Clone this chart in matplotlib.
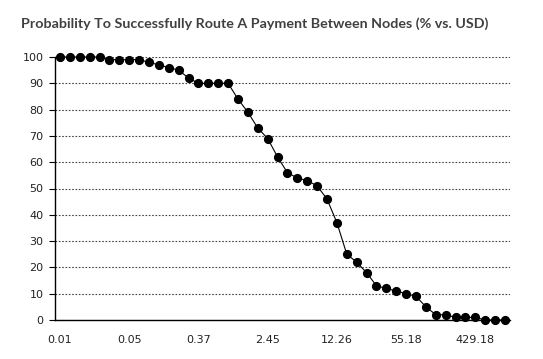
import matplotlib
matplotlib.use("Agg")
import matplotlib.pyplot as plt

# probability (%) per payment-size bucket
success_pct = [100, 100, 100, 100, 100, 99, 99, 99, 99, 98,
               97, 96, 95, 92, 90, 90, 90, 90, 84, 79,
               73, 69, 62, 56, 54, 53, 51, 46, 37, 25,
               22, 18, 13, 12, 11, 10, 9, 5, 2, 2,
               1, 1, 1, 0, 0, 0]
# only every 7th USD amount is labelled on the axis
usd_labels = ["0.01", "0.05", "0.37", "2.45", "12.26", "55.18", "429.18"]
label_every = 7
y_ticks = list(range(0, 101, 10))

x = list(range(len(success_pct)))

fig = plt.figure(figsize=(5.43, 3.59), dpi=100)
ax = fig.add_axes([55 / 543, 39 / 359, 455 / 543, 263 / 359])

ax.plot(x, success_pct, color="black", linewidth=0.8, marker="o",
        markersize=5.6, clip_on=False, zorder=3)

ax.set_xlim(-0.5, len(success_pct) - 0.5)
ax.set_ylim(0, 100)
ax.set_yticks(y_ticks)
ax.set_xticks([i * label_every for i in range(len(usd_labels))])
ax.set_xticklabels(usd_labels)

ax.grid(axis="y", linestyle=(0, (1.5, 1.5)), color="#444444", linewidth=0.8)
ax.set_axisbelow(True)
for side in ["top", "right"]:
    ax.spines[side].set_visible(False)
for side in ["left", "bottom"]:
    ax.spines[side].set_color("black")
    ax.spines[side].set_linewidth(1.0)

ax.tick_params(axis="y", length=4.3, width=0.8, pad=4, labelsize=8, colors="black", labelcolor="#222222")
ax.tick_params(axis="x", length=0, pad=11, labelsize=8, labelcolor="#222222")

fig.text(21 / 543, 1 - 24 / 359, "Probability To Successfully Route A Payment Between Nodes (% vs. USD)",
         fontsize=10.3, fontweight="bold", color="#404040", family="Lato", va="center", ha="left")

fig.savefig("out.png", dpi=100)
